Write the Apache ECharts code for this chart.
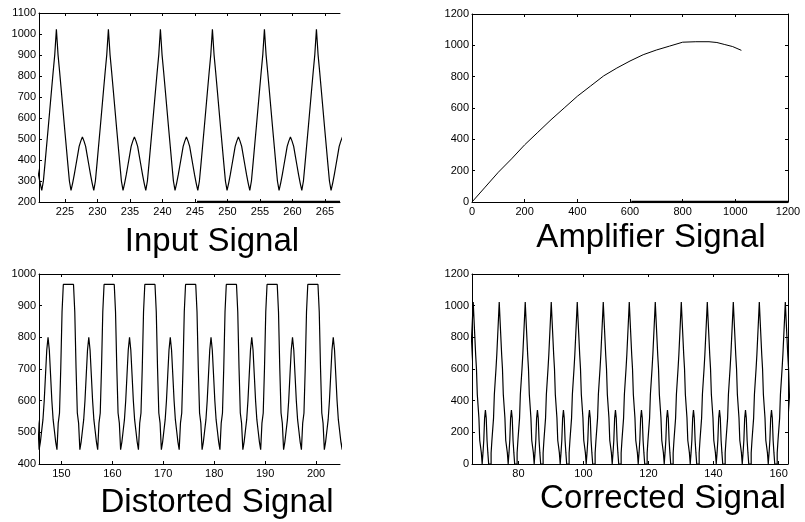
<!DOCTYPE html>
<html>
<head>
<meta charset="utf-8">
<title>Signals</title>
<script src="https://cdn.jsdelivr.net/npm/echarts@6/dist/echarts.min.js"></script>
<style>
    html, body { margin: 0; padding: 0; background: #fff; }
    #chartDiv { width: 805px; height: 522px; }
</style>
</head>
<body>
<div id="chartDiv"></div>

<script>
    var sampleStep = 0.25;
    var inputCycle = [255, 300, 384, 470, 556, 644, 732, 819, 902, 1023, 902, 819, 732, 644, 556, 470,
        384, 300, 255, 290, 330, 375, 420, 465, 490, 510, 490, 465, 420, 375, 330, 290];
    var inputStart = 213.55;
    var inputCycles = 8;

    var distortedCycle = [445, 529, 561, 703, 881, 967, 967, 967, 967, 967, 967, 967, 967, 967, 881, 703,
        561, 529, 445, 470, 505, 540, 600, 680, 760, 800, 760, 680, 600, 540, 505, 470];
    var distortedStart = 141.25;
    var distortedCycles = 9;

    var correctedCycle = [0, 0, 70, 150, 150, 290, 440, 440, 600, 690, 800, 910, 1023, 910, 800, 690,
        600, 440, 440, 290, 150, 150, 70, 0, 70, 150, 290, 340, 290, 150, 70, 0];
    var correctedStart = 63.2;
    var correctedCycles = 13;

    // amplifier transfer curve: input level -> output level
    var ampIn = [0, 50, 100, 150, 200, 250, 300, 350, 400, 450, 500, 550, 600, 650, 700, 750, 800, 850, 900, 930, 960, 990, 1023];
    var ampOut = [0, 95, 190, 275, 365, 445, 525, 600, 675, 740, 805, 855, 900, 940, 970, 995, 1020, 1023, 1023, 1018, 1005, 992, 968];

    // heavy stroke along the bottom edge of two panels
    var inputEdge = [[245.3, 200], [267.3, 200]];
    var ampEdge = [[605, 0], [1200, 0]];

    // tick labels
    var inputTicks = [225, 230, 235, 240, 245, 250, 255, 260, 265];
    var ampTicks = [0, 200, 400, 600, 800, 1000, 1200];
    var distortedTicks = [150, 160, 170, 180, 190, 200];
    var correctedTicks = [80, 100, 120, 140, 160];

    function tile(cycle, start, cycles) {
        var pts = [];
        for (var c = 0; c < cycles; c++) {
            for (var i = 0; i < cycle.length; i++) {
                pts.push([start + (c * cycle.length + i) * sampleStep, cycle[i]]);
            }
        }
        return pts;
    }

    function zip(xs, ys) {
        return xs.map(function (x, i) { return [x, ys[i]]; });
    }
</script>

<script>
    var chart = echarts.init(document.getElementById('chartDiv'), null, {renderer: 'canvas'});
    var black = '#000';
    var plain = function (v) { return String(v); };
    var labelFont = {color: black, fontSize: 11, fontFamily: 'Liberation Sans', formatter: plain};

    var grids = [
        {left: 39, top: 13, width: 301, height: 189},
        {left: 472, top: 14, width: 316, height: 188},
        {left: 39, top: 274, width: 301, height: 190},
        {left: 472, top: 274, width: 316, height: 190}
    ];

    var xAxes = [];
    var yAxes = [];

    function addPanel(g, xMin, xMax, xTicks, yMin, yMax, yInt, withRight) {
        xAxes.push({
            gridIndex: g, type: 'value', min: xMin, max: xMax, position: 'bottom',
            axisLine: {show: true, onZero: false, lineStyle: {color: black, width: 1}},
            axisTick: {show: true, inside: true, length: 3, customValues: xTicks, lineStyle: {color: black}},
            axisLabel: Object.assign({customValues: xTicks, margin: 4}, labelFont),
            splitLine: {show: false}
        });
        xAxes.push({
            gridIndex: g, type: 'value', min: xMin, max: xMax, position: 'top',
            axisLine: {show: true, onZero: false, lineStyle: {color: black, width: 1}},
            axisTick: {show: true, inside: true, length: 3, customValues: xTicks, lineStyle: {color: black}},
            axisLabel: {show: false},
            splitLine: {show: false}
        });
        yAxes.push({
            gridIndex: g, type: 'value', min: yMin, max: yMax, interval: yInt, position: 'left',
            axisLine: {show: true, onZero: false, lineStyle: {color: black, width: 1}},
            axisTick: {show: true, inside: true, length: 3, lineStyle: {color: black}},
            axisLabel: Object.assign({margin: 3}, labelFont),
            splitLine: {show: false}
        });
        if (withRight) {
            yAxes.push({
                gridIndex: g, type: 'value', min: yMin, max: yMax, interval: yInt, position: 'right',
                axisLine: {show: true, onZero: false, lineStyle: {color: black, width: 1}},
                axisTick: {show: true, inside: true, length: 3, lineStyle: {color: black}},
                axisLabel: {show: false},
                splitLine: {show: false}
            });
        }
    }

    addPanel(0, 221, 267.3, inputTicks, 200, 1100, 100, false);
    addPanel(1, 0, 1200, ampTicks, 0, 1200, 200, true);
    addPanel(2, 145.6, 204.7, distortedTicks, 400, 1000, 100, false);
    addPanel(3, 65.7, 162.9, correctedTicks, 0, 1200, 200, true);

    function signal(xi, yi, data, step, width) {
        return {
            type: 'line', xAxisIndex: xi, yAxisIndex: yi, data: data,
            step: step, symbol: 'none', showSymbol: false, animation: false,
            lineStyle: {color: black, width: width || 1.2}, silent: true
        };
    }

    var titleStyle = {color: black, fontSize: 33, fontWeight: 'normal', fontFamily: 'Liberation Sans'};

    chart.setOption({
        backgroundColor: '#fff',
        animation: false,
        title: [
            {text: 'Input Signal', left: 212, top: 225, textAlign: 'center', padding: 0, textStyle: titleStyle},
            {text: 'Amplifier Signal', left: 651, top: 221, textAlign: 'center', padding: 0, textStyle: titleStyle},
            {text: 'Distorted Signal', left: 217, top: 486, textAlign: 'center', padding: 0, textStyle: titleStyle},
            {text: 'Corrected Signal', left: 663, top: 482, textAlign: 'center', padding: 0, textStyle: titleStyle}
        ],
        grid: grids,
        xAxis: xAxes,
        yAxis: yAxes,
        series: [
            signal(0, 0, tile(inputCycle, inputStart, inputCycles), 'middle'),
            signal(0, 0, inputEdge, false, 2.5),
            signal(2, 1, zip(ampIn, ampOut), false, 1),
            signal(2, 1, ampEdge, false, 2.5),
            signal(4, 3, tile(distortedCycle, distortedStart, distortedCycles), 'middle'),
            signal(6, 4, tile(correctedCycle, correctedStart, correctedCycles), 'middle')
        ]
    });
</script>
</body>
</html>
